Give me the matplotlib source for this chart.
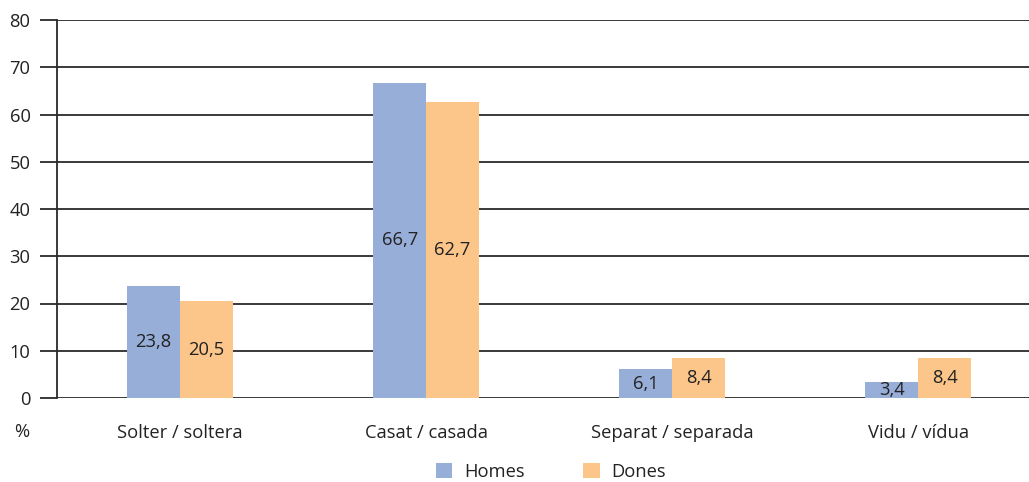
import matplotlib
matplotlib.use("Agg")
import matplotlib.pyplot as plt
import numpy as np

categories = ["Solter / soltera", "Casat / casada", "Separat / separada", "Vidu / vídua"]
homes = [23.8, 66.7, 6.1, 3.4]
dones = [20.5, 62.7, 8.4, 8.4]
series_names = ["Homes", "Dones"]
yticks = [0, 10, 20, 30, 40, 50, 60, 70, 80]

plt.rcParams['font.family'] = ['Open Sans', 'DejaVu Sans']
text_color = "#222222"
blue = "#97AED9"
orange = "#FCC68A"
line_color = "#2a2a2a"
fs = 13.2

fig = plt.figure(figsize=(10.29, 4.82), dpi=100)
ax = fig.add_axes([57/1029, 84/482, 1 - 57/1029, (398-20)/482])

x = np.arange(len(categories))
w = 0.215
b1 = ax.bar(x - w/2, homes, w, color=blue, label=series_names[0], zorder=3)
b2 = ax.bar(x + w/2, dones, w, color=orange, label=series_names[1], zorder=3)

def fmt(v):
    return f"{v:.1f}".replace(".", ",")

for bars, vals in ((b1, homes), (b2, dones)):
    for r, v in zip(bars, vals):
        ax.text(r.get_x() + r.get_width()/2, v/2, fmt(v), ha="center", va="center",
                fontsize=fs, color=text_color, zorder=4)

ax.set_ylim(0, 80)
ax.set_xlim(-0.5, 3.45)
ax.set_yticks(yticks)
ax.set_yticklabels([str(t) for t in yticks], fontsize=fs, color=text_color)
ax.yaxis.grid(True, color=line_color, linewidth=1.3, zorder=0)
ax.tick_params(axis="y", length=12, width=1.3, color=line_color, pad=7)
ax.set_xticks(x)
ax.set_xticklabels(categories, fontsize=fs, color=text_color)
ax.tick_params(axis="x", length=0, pad=19)
for s in ("top", "right", "bottom"):
    ax.spines[s].set_visible(False)
ax.spines["left"].set_color(line_color)
ax.spines["left"].set_linewidth(1.3)
ax.set_axisbelow(True)

fig.text(22/1029, 1 - 432/482, "%", fontsize=fs, color=text_color, ha="center", va="center")

leg = fig.legend(handles=[b1, b2], labels=series_names, loc="center",
                 bbox_to_anchor=(551/1029, 1 - 472/482), ncol=2, frameon=False,
                 fontsize=fs, handlelength=0.9, handleheight=0.9, columnspacing=3.2,
                 handletextpad=0.65)
for t in leg.get_texts():
    t.set_color(text_color)

fig.savefig("out.png", dpi=100)
